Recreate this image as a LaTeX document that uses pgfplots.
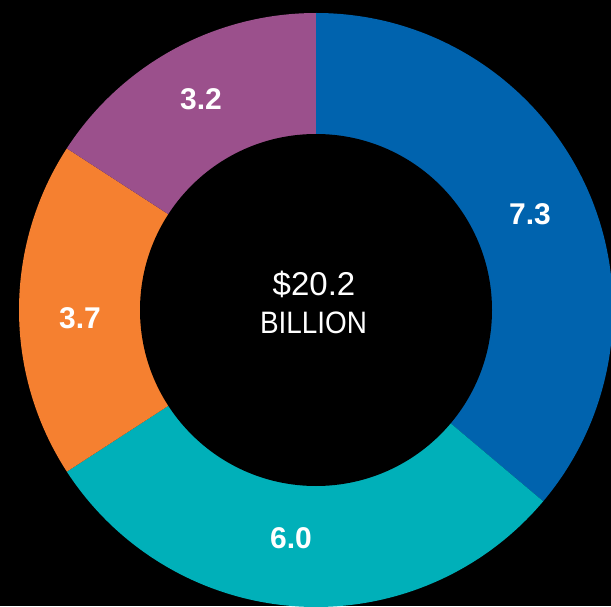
\documentclass[border=0pt]{standalone}
\usepackage{pgfplots}
\usepackage{pgfplotstable}
\pgfplotsset{compat=1.18}
\usepackage{fontspec}
\setmainfont{Liberation Sans}
\definecolor{cblue}{RGB}{0,99,174}
\definecolor{cteal}{RGB}{0,176,185}
\definecolor{corange}{RGB}{245,128,48}
\definecolor{cpurple}{RGB}{155,80,140}
% label positions lx, ly in axis units (picture pixels, y from the bottom)
\pgfplotstableread{
value color lx ly
7.3 cblue 530 392
6.0 cteal 291 68
3.7 corange 80 288
3.2 cpurple 201 507
}\donut
\tikzset{lbl/.style={text=white,font=\fontsize{30}{34}\selectfont\bfseries,anchor=center,inner sep=0pt}}
\begin{document}
\begin{tikzpicture}
\begin{axis}[hide axis, x=1pt, y=1pt, xmin=0, xmax=611, ymin=0, ymax=606, scale only axis, clip=true]
\addplot[draw=none, fill=black] coordinates {(0,0) (611,0) (611,606) (0,606)} -- cycle;
\gdef\astart{90}
\pgfplotsforeachungrouped \i in {0,...,3}{%
  \pgfplotstablegetelem{\i}{value}\of\donut
  \let\v\pgfplotsretval
  \pgfplotstablegetelem{\i}{color}\of\donut
  \let\c\pgfplotsretval
  \pgfmathsetmacro\aend{\astart-\v/20.2*360}%
  \edef\temp{\noexpand\fill[\c] (axis cs:316,296) -- ++(\astart:297) arc[start angle=\astart, end angle=\aend, radius=297] -- cycle;}%
  \temp
  \global\let\astart\aend
}
\fill[black] (axis cs:316,296) circle[radius=176];
\pgfplotsforeachungrouped \i in {0,...,3}{%
  \pgfplotstablegetelem{\i}{value}\of\donut
  \let\v\pgfplotsretval
  \pgfplotstablegetelem{\i}{lx}\of\donut
  \let\lx\pgfplotsretval
  \pgfplotstablegetelem{\i}{ly}\of\donut
  \let\ly\pgfplotsretval
  \edef\temp{\noexpand\node[lbl] at (axis cs:\lx,\ly) {\v};}%
  \temp
}
\node[text=white, font=\fontsize{33}{38}\selectfont, anchor=base, inner sep=0pt] at (axis cs:314,310) {\$20.2};
\node[text=white, font=\fontsize{31}{38}\selectfont, anchor=base, inner sep=0pt] at (axis cs:313.5,272) {\scalebox{0.9}[1]{BILLION}};
\end{axis}
\end{tikzpicture}
\end{document}
